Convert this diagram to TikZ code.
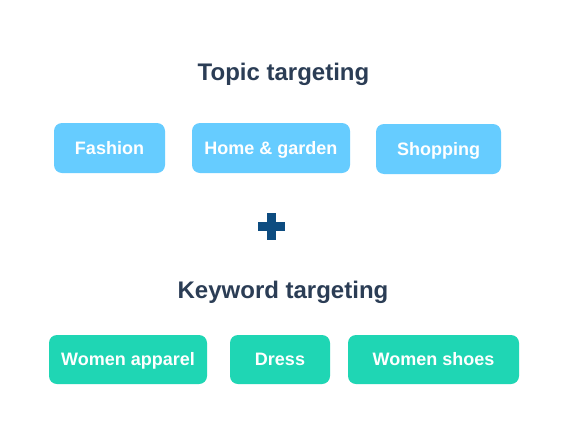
\documentclass[tikz,border=0pt]{standalone}
\usepackage{fontspec}
\setmainfont{Liberation Sans}
\usepackage{tikz}
\usetikzlibrary{positioning}
\definecolor{topicblue}{HTML}{66CCFF}
\definecolor{kwgreen}{HTML}{1FD6B4}
\definecolor{titleink}{HTML}{2B3D55}
\definecolor{plusink}{HTML}{0D4C80}
\tikzset{
  tag/.style={rounded corners=8pt, inner sep=0pt, align=center, text=white,
              font=\fontsize{18}{20}\selectfont\bfseries, text height=12.9pt, text depth=0pt},
  topictag/.style={tag, fill=topicblue, minimum height=50pt},
  kwtag/.style={tag, fill=kwgreen, minimum height=49pt},
  heading/.style={inner sep=0pt, text=titleink, font=\fontsize{24}{28}\selectfont\bfseries,
              text height=17.2pt, text depth=0pt},
}
\begin{document}
\begin{tikzpicture}[x=1pt, y=-1pt]
    \useasboundingbox (0,0) rectangle (564,447);
    \fill[white] (0,0) rectangle (564,447);
    % topic targeting
    \node[heading] (topic) at (283.5,71.5) {Topic targeting};
    \node[topictag, minimum width=111pt] (fashion) at (109.5,148) {Fashion};
    \node[topictag, minimum width=158pt] (home) at (271,148) {Home \& garden};
    \node[topictag, minimum width=125pt] (shop) at (438.5,149) {Shopping};
    % plus sign
    \fill[plusink] (258,222) rectangle (285,231);
    \fill[plusink] (267,213) rectangle (276,240);
    % keyword targeting
    \node[heading] (keyword) at (283,290) {Keyword targeting};
    \node[kwtag, minimum width=158pt] (apparel) at (128,359.5) {Women apparel};
    \node[kwtag, minimum width=100pt] (dress) at (280,359.5) {Dress};
    \node[kwtag, minimum width=171pt] (shoes) at (433.5,359.5) {Women shoes};
\end{tikzpicture}
\end{document}
